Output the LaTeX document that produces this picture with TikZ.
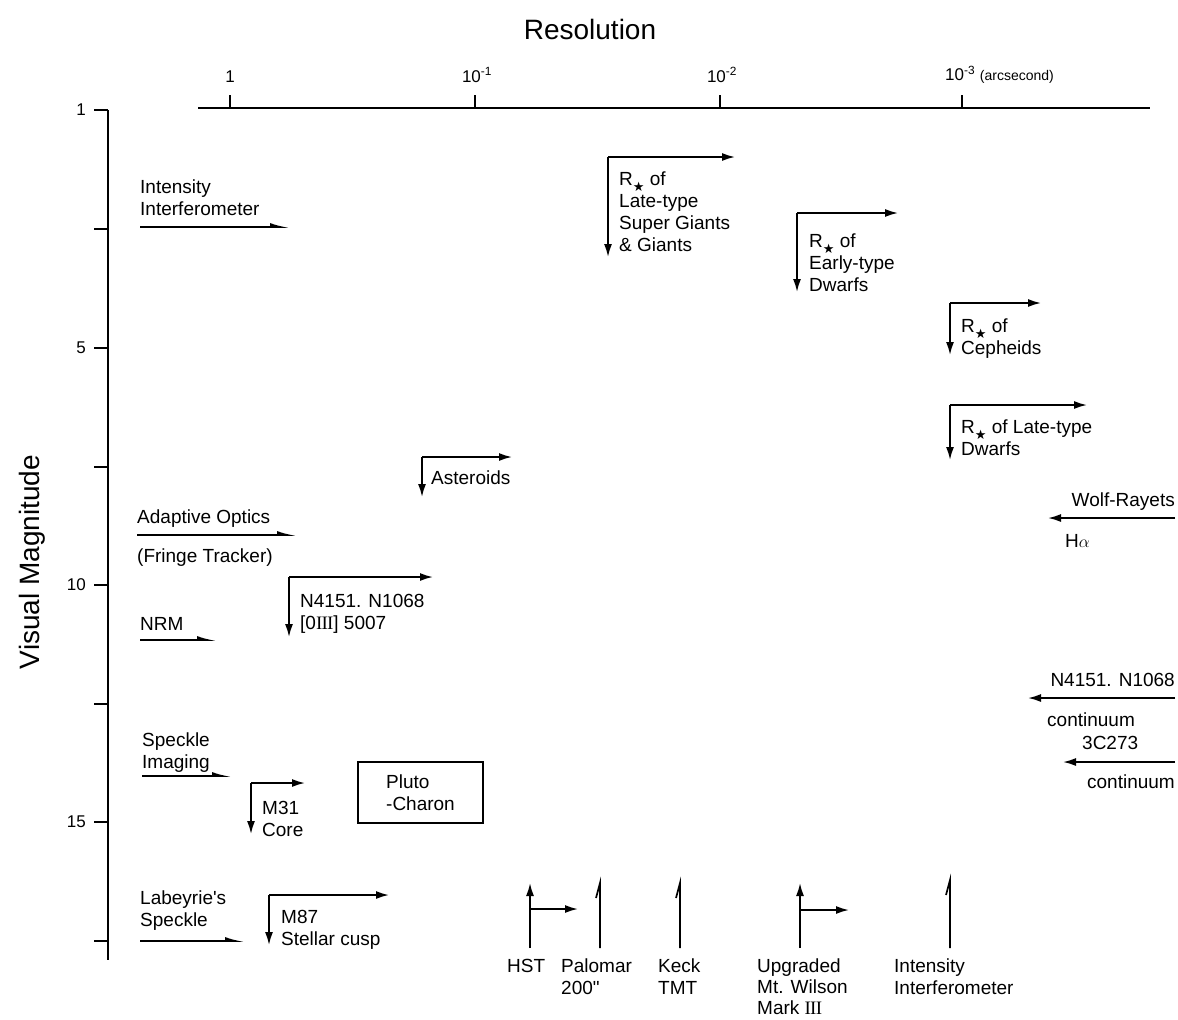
\documentclass[tikz,border=0pt]{standalone}
\usepackage{fontspec}
\setmainfont{Liberation Sans}
\newfontfamily\dejavu{DejaVu Sans}
\newfontfamily\serifIII{Liberation Serif}
\usetikzlibrary{arrows.meta}
\newcommand{\Rstar}{R\raisebox{-0.28em}{\dejavu\fontsize{13}{13}\selectfont ★}}
\newcommand{\RomIII}{{\serifIII I\kern-0.8pt I\kern-0.8pt I}}
\begin{document}
\begin{tikzpicture}[x=1pt,y=-1pt,
  lbl/.style={font=\fontsize{19}{22}\selectfont, inner sep=0pt, anchor=north west, align=left},
  lblr/.style={font=\fontsize{19}{22}\selectfont, inner sep=0pt, anchor=north east, align=right},
  ticklbl/.style={font=\fontsize{17}{19}\selectfont, inner sep=0pt},
  arr/.style={line width=1.7pt, -{Latex[length=13pt,width=8pt]}},
  harp/.style={line width=1.7pt, -{Latex[harpoon,length=15pt,width=8pt]}},
  plain/.style={line width=1.7pt},
  axisline/.style={line width=2.2pt}]
\useasboundingbox (0,0) rectangle (1178,1020);

% titles
\node[font=\fontsize{28}{30}\selectfont] (title) at (590,29) {Resolution};
\node[font=\fontsize{28}{30}\selectfont, rotate=90] (ylab) at (32,562) {Visual Magnitude};

% top axis
\coordinate (hx0) at (198,108);
\coordinate (hx1) at (1150,108);
\draw[axisline] (hx0) -- (hx1);
\foreach \x in {230,475,720,962} \draw[axisline] (\x,108) -- (\x,95);
\node[ticklbl] (r0) at (230,77) {1};
\node[ticklbl] (r1) at (477,75) {10\textsuperscript{-1}};
\node[ticklbl] (r2) at (722,75) {10\textsuperscript{-2}};
\node[ticklbl, anchor=west] (r3) at (945,75) {10\textsuperscript{-3} {\fontsize{14}{14}\selectfont (arcsecond)}};

% left axis
\coordinate (vy0) at (108,110);
\coordinate (vy1) at (108,960);
\draw[axisline] (vy0) -- (vy1);
\foreach \y in {110,229,348,467,585,704,822,941} \draw[axisline] (94,\y) -- (108,\y);
\node[ticklbl, anchor=east] (m1) at (86,110) {1};
\node[ticklbl, anchor=east] (m5) at (86,348) {5};
\node[ticklbl, anchor=east] (m10) at (86,585) {10};
\node[ticklbl, anchor=east] (m15) at (86,822) {15};

% Intensity interferometer (left)
\node[lbl] (ii) at (140,180) {Intensity\\Interferometer};
\coordinate (iiA) at (140,227); \coordinate (iiB) at (290,227);
\draw[harp] (iiA) -- (iiB);

% R* late-type super giants
\coordinate (c1) at (608,157); \coordinate (c1r) at (735,157); \coordinate (c1d) at (608,257);
\draw[arr] (c1) -- (c1r); \draw[arr] (c1) -- (c1d);
\node[lbl] (t1) at (619,172) {\Rstar\ of\\Late-type\\Super Giants\\\& Giants};

% R* early-type dwarfs
\coordinate (c2) at (797,213); \coordinate (c2r) at (898,213); \coordinate (c2d) at (797,292);
\draw[arr] (c2) -- (c2r); \draw[arr] (c2) -- (c2d);
\node[lbl] (t2) at (809,234) {\Rstar\ of\\Early-type\\Dwarfs};

% R* cepheids
\coordinate (c3) at (950,303); \coordinate (c3r) at (1041,303); \coordinate (c3d) at (950,355);
\draw[arr] (c3) -- (c3r); \draw[arr] (c3) -- (c3d);
\node[lbl] (t3) at (961,319) {\Rstar\ of\\Cepheids};

% R* late-type dwarfs
\coordinate (c4) at (950,405); \coordinate (c4r) at (1087,405); \coordinate (c4d) at (950,460);
\draw[arr] (c4) -- (c4r); \draw[arr] (c4) -- (c4d);
\node[lbl] (t4) at (961,420) {\Rstar\ of Late-type\\Dwarfs};

% Asteroids
\coordinate (c5) at (422,457); \coordinate (c5r) at (512,457); \coordinate (c5d) at (422,497);
\draw[arr] (c5) -- (c5r); \draw[arr] (c5) -- (c5d);
\node[lbl] (t5) at (431,471) {Asteroids};

% Adaptive optics
\node[lbl] (ao) at (137,510) {Adaptive Optics};
\coordinate (aoA) at (137,535); \coordinate (aoB) at (297,535);
\draw[harp] (aoA) -- (aoB);
\node[lbl] (ft) at (137,549) {(Fringe Tracker)};

% N4151 [OIII]
\coordinate (c6) at (289,577); \coordinate (c6r) at (433,577); \coordinate (c6d) at (289,637);
\draw[arr] (c6) -- (c6r); \draw[arr] (c6) -- (c6d);
\node[lbl] (t6) at (300,594) {N4151. N1068\\{}[0\RomIII] 5007};

% NRM
\node[lbl] (nrm) at (140,617) {NRM};
\coordinate (nrmA) at (140,640); \coordinate (nrmB) at (217,640);
\draw[harp] (nrmA) -- (nrmB);

% Wolf-Rayets
\node[lblr] (wr) at (1175,493) {Wolf-Rayets};
\coordinate (wrA) at (1175,518); \coordinate (wrB) at (1048,518);
\draw[arr] (wrA) -- (wrB);
\node[lbl, anchor=base west] (ha) at (1065,547) {H$\alpha$};

% N4151 continuum
\node[lblr] (nc) at (1175,673) {N4151. N1068};
\coordinate (ncA) at (1175,698); \coordinate (ncB) at (1028,698);
\draw[arr] (ncA) -- (ncB);
\node[lbl, anchor=base west] (nc2) at (1047,726) {continuum};

% 3C273
\node[lbl] (qc) at (1082,736) {3C273};
\coordinate (qcA) at (1175,762); \coordinate (qcB) at (1063,762);
\draw[arr] (qcA) -- (qcB);
\node[lbl, anchor=base east] (qc2) at (1175,788) {continuum};

% Speckle imaging
\node[lbl] (si) at (142,733) {Speckle\\Imaging};
\coordinate (siA) at (142,776); \coordinate (siB) at (232,776);
\draw[harp] (siA) -- (siB);

% M31 core
\coordinate (c7) at (251,783); \coordinate (c7r) at (305,783); \coordinate (c7d) at (251,834);
\draw[arr] (c7) -- (c7r); \draw[arr] (c7) -- (c7d);
\node[lbl] (t7) at (262,801) {M31\\Core};

% Pluto-Charon
\node[draw, line width=1.6pt, minimum width=125pt, minimum height=61pt,
      font=\fontsize{19}{22}\selectfont, align=left] (pluto) at (420.5,792.5) {Pluto\\-Charon};

% Labeyrie's speckle
\node[lbl] (ls) at (140,891) {Labeyrie\textquotesingle s\\Speckle};
\coordinate (lsA) at (140,941); \coordinate (lsB) at (245,941);
\draw[harp] (lsA) -- (lsB);

% M87
\coordinate (c8) at (269,895); \coordinate (c8r) at (389,895); \coordinate (c8d) at (269,945);
\draw[arr] (c8) -- (c8r); \draw[arr] (c8) -- (c8d);
\node[lbl] (t8) at (281,910) {M87\\Stellar cusp};

% bottom instruments
\coordinate (hb) at (530,948); \coordinate (ht) at (530,883);
\coordinate (hm) at (530,909); \coordinate (hr) at (578,909);
\draw[arr] (hb) -- (ht); \draw[arr] (hm) -- (hr);

\coordinate (pb) at (600,948); \coordinate (pt) at (600,883); \coordinate (pk) at (596,898);
\draw[plain] (pb) -- (pt) -- (pk);

\coordinate (kb) at (680,948); \coordinate (kt) at (680,883); \coordinate (kk) at (676,898);
\draw[plain] (kb) -- (kt) -- (kk);

\coordinate (wb) at (800,948); \coordinate (wt) at (800,883);
\coordinate (wm) at (800,910); \coordinate (wr2) at (849,910);
\draw[arr] (wb) -- (wt); \draw[arr] (wm) -- (wr2);

\coordinate (ib) at (950,948); \coordinate (it) at (950,880); \coordinate (ik) at (946,895);
\draw[plain] (ib) -- (it) -- (ik);

\node[lbl] (lhst) at (507,959) {HST};
\node[lbl] (lpal) at (561,959) {Palomar\\200\textquotedbl};
\node[lbl] (lkeck) at (658,959) {Keck\\TMT};
\node[lbl, font=\fontsize{19}{21}\selectfont] (lmw) at (757,959) {Upgraded\\Mt. Wilson\\Mark \RomIII};
\node[lbl] (lint) at (894,959) {Intensity\\Interferometer};
\end{tikzpicture}
\end{document}
